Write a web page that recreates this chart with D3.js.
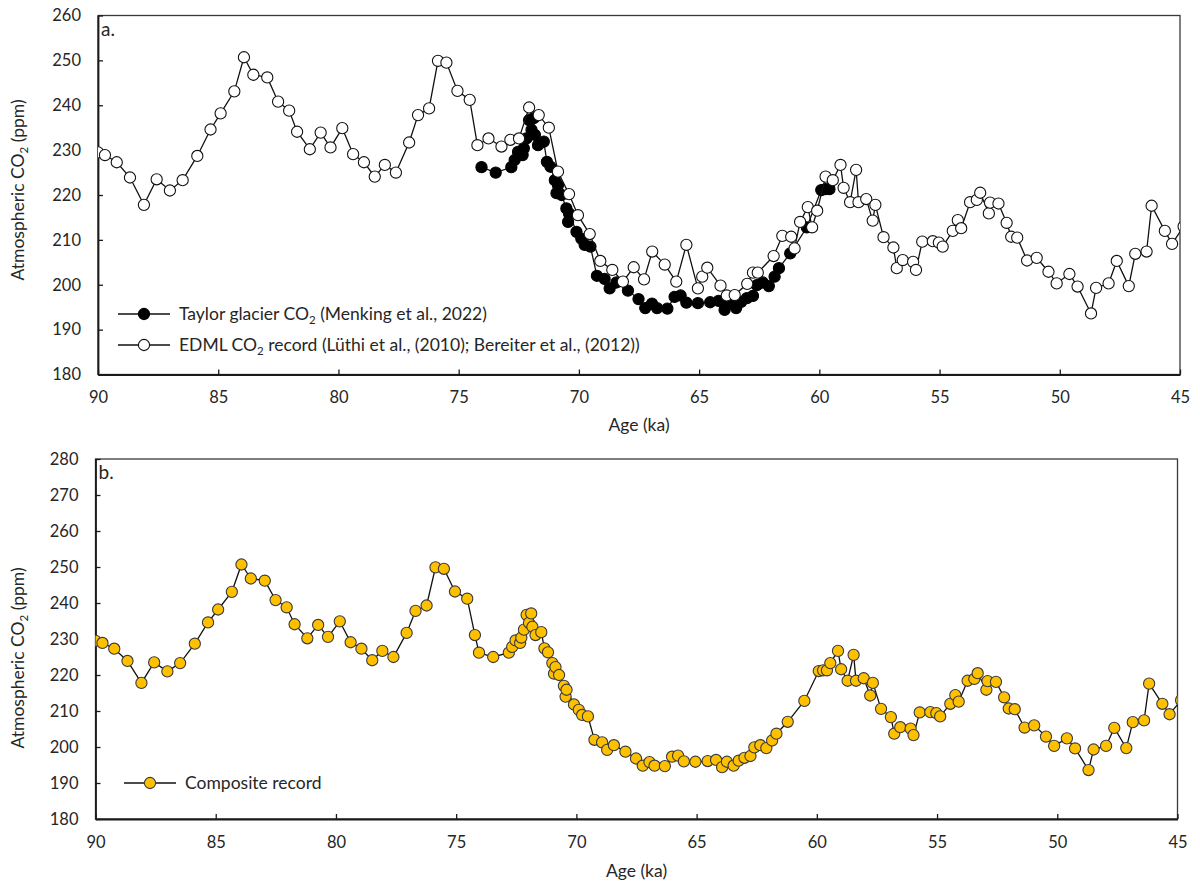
<!DOCTYPE html>
<html><head><meta charset="utf-8">
<script src="https://cdn.jsdelivr.net/npm/d3@7"></script>
<style>
body{margin:0;background:#fff}
text{font-family:Lato,"Open Sans",sans-serif;fill:#262626}
</style>
</head><body>
<svg id="c" width="1200" height="886"></svg>
<script>
// ---- data ----
const edmlAge = [90.0,89.71,89.22,88.67,88.09,87.56,87.01,86.48,85.87,85.32,84.90,84.33,83.93,83.54,82.96,82.51,82.05,81.72,81.19,80.74,80.33,79.84,79.39,78.94,78.49,78.07,77.61,77.06,76.69,76.23,75.86,75.51,75.05,74.54,74.22,73.76,73.22,72.85,72.49,72.07,71.67,71.25,70.87,70.41,70.04,69.55,69.11,68.61,68.17,67.72,67.29,66.95,66.43,65.95,65.53,65.05,64.87,64.66,64.11,63.85,63.52,63.00,62.76,62.56,61.90,61.54,61.17,61.03,60.80,60.48,60.30,60.09,59.74,59.44,59.12,58.99,58.72,58.47,58.37,58.05,57.78,57.67,57.33,56.92,56.78,56.53,56.10,55.98,55.72,55.28,55.03,54.87,54.45,54.24,54.10,53.73,53.45,53.31,52.95,52.90,52.55,52.21,52.02,51.77,51.36,50.96,50.47,50.13,49.60,49.26,48.70,48.49,47.97,47.63,47.13,46.86,46.39,46.18,45.63,45.33,44.85];
const edmlCO2 = [229.5,228.9,227.3,223.9,217.8,223.5,221.0,223.3,228.7,234.6,238.2,243.1,250.7,246.8,246.2,240.8,238.8,234.1,230.2,233.9,230.6,234.9,229.1,227.3,224.1,226.7,225.0,231.7,237.8,239.3,249.9,249.5,243.2,241.2,231.1,232.6,230.8,232.3,232.6,239.5,237.8,235.0,225.2,220.2,215.5,211.3,205.3,203.3,200.7,203.9,201.2,207.4,204.5,200.7,208.9,199.2,201.8,203.8,199.8,197.6,197.7,200.2,202.7,202.7,206.4,210.9,210.7,208.1,214.0,217.3,212.8,216.5,224.1,223.3,226.7,221.6,218.4,225.6,218.4,219.1,214.3,217.8,210.6,208.3,203.7,205.5,205.1,203.3,209.6,209.7,209.4,208.5,212.0,214.4,212.6,218.4,218.9,220.5,215.9,218.3,218.1,213.8,210.7,210.5,205.4,206.0,202.9,200.3,202.4,199.6,193.6,199.3,200.3,205.3,199.7,206.9,207.4,217.6,212.0,209.1,213.0];

const taylorAge = [74.05,73.46,72.81,72.67,72.53,72.34,72.29,72.18,72.07,71.97,71.88,71.83,71.70,71.46,71.33,71.18,71.00,70.93,70.87,70.72,70.52,70.45,70.41,70.10,69.90,69.76,69.52,69.25,68.93,68.72,68.44,67.96,67.52,67.24,66.96,66.75,66.32,66.02,65.77,65.53,65.05,64.54,64.19,63.94,63.74,63.46,63.25,63.01,62.76,62.60,62.35,62.10,61.86,61.68,61.21,60.52,59.92,59.74,59.58];
const taylorCO2 = [226.2,225.0,226.2,227.8,229.6,228.9,230.4,232.6,236.7,234.5,237.1,233.4,231.1,231.9,227.4,226.3,223.3,220.4,222.2,220.0,217.0,214.0,215.9,211.8,210.3,208.9,208.5,202.0,201.3,199.2,200.5,198.7,196.8,194.8,195.8,194.8,194.7,197.3,197.6,196.0,195.9,196.1,196.4,194.4,195.9,194.8,196.2,197.0,197.5,199.9,200.5,199.7,201.8,203.7,207.0,212.8,221.1,221.3,221.3];

const xTicks = [90,85,80,75,70,65,60,55,50,45];
const yTicksA = [180,190,200,210,220,230,240,250,260];
const yTicksB = [180,190,200,210,220,230,240,250,260,270,280];

// composite record: EDML outside the Taylor glacier interval, Taylor glacier inside it
const edmlPts = edmlAge.map((a,i)=>({age:a,co2:edmlCO2[i]}));
const taylorPts = taylorAge.map((a,i)=>({age:a,co2:taylorCO2[i]}));
const compositePts = edmlPts.filter(d=>d.age>=74.2)
  .concat(taylorPts)
  .concat(edmlPts.filter(d=>d.age<=59.45));

const svg = d3.select("#c");
const R = 5.6;

function co2Label(sel, x, y, parts){
  const t = sel.append("text").attr("font-size",17.5)
    .attr("transform",`translate(${x},${y}) rotate(-90)`)
    .attr("text-anchor","middle");
  t.append("tspan").text(parts[0]);
  t.append("tspan").attr("font-size",11.5).attr("dy",4).text("2");
  t.append("tspan").attr("dy",-4).text(parts[1]);
  return t;
}

function panel(cfg){
  const g = svg.append("g");
  const x = d3.scaleLinear().domain([90,45]).range([cfg.x0,cfg.x1]);
  const y = d3.scaleLinear().domain(cfg.yDomain).range([cfg.y1,cfg.y0]);
  const id = "clip"+cfg.name;
  svg.append("clipPath").attr("id",id).append("rect")
    .attr("x",cfg.x0).attr("y",cfg.y0).attr("width",cfg.x1-cfg.x0).attr("height",cfg.y1-cfg.y0);

  // frame
  g.append("rect").attr("x",cfg.x0).attr("y",cfg.y0).attr("width",cfg.x1-cfg.x0).attr("height",cfg.y1-cfg.y0)
    .attr("fill","none").attr("stroke","#3a3a3a").attr("stroke-width",1.3);

  const xa = g.append("g").attr("transform",`translate(0,${cfg.y1})`)
    .call(d3.axisBottom(x).tickValues(xTicks).tickSizeInner(-5).tickSizeOuter(0).tickPadding(17).tickFormat(d3.format("d")));
  const ya = g.append("g").attr("transform",`translate(${cfg.x0},0)`)
    .call(d3.axisLeft(y).tickValues(cfg.yTicks).tickSizeInner(-5).tickSizeOuter(0).tickPadding(17).tickFormat(d3.format("d")));
  [xa,ya].forEach(a=>{
    a.select(".domain").attr("stroke","#1a1a1a").attr("stroke-width",1.8);
    a.selectAll(".tick line").attr("stroke","#1a1a1a").attr("stroke-width",1.3);
    a.selectAll(".tick text").attr("font-size",16.5).attr("font-family","Lato,'Open Sans',sans-serif").attr("fill","#262626");
  });

  const plot = g.append("g").attr("clip-path",`url(#${id})`);
  const line = d3.line().x(d=>x(d.age)).y(d=>y(d.co2));
  cfg.series.forEach(s=>{
    plot.append("path").datum(s.data).attr("d",line)
      .attr("fill","none").attr("stroke","#111").attr("stroke-width",1.3);
    plot.selectAll(null).data(s.data).enter().append("circle")
      .attr("cx",d=>x(d.age)).attr("cy",d=>y(d.co2)).attr("r",R)
      .attr("fill",s.fill).attr("stroke",s.stroke).attr("stroke-width",1.1);
  });

  // legend
  cfg.legend.forEach(l=>{
    const lg = g.append("g");
    lg.append("line").attr("x1",l.x).attr("x2",l.x+52).attr("y1",l.y).attr("y2",l.y)
      .attr("stroke","#111").attr("stroke-width",1.3);
    lg.append("circle").attr("cx",l.x+26).attr("cy",l.y).attr("r",R)
      .attr("fill",l.fill).attr("stroke",l.stroke).attr("stroke-width",1.1);
    const t = lg.append("text").attr("x",l.x+61).attr("y",l.y+6).attr("font-size",17.5);
    l.text.forEach(p=>{
      if(p.sub) t.append("tspan").attr("font-size",11.5).attr("dy",4).text(p.t);
      else if(p.after) t.append("tspan").attr("dy",-4).text(p.t);
      else t.append("tspan").text(p.t);
    });
  });

  g.append("text").attr("x",cfg.x0+3).attr("y",cfg.y0+20).attr("font-size",19).text(cfg.name+".");
  g.append("text").attr("x",(cfg.x0+cfg.x1)/2).attr("y",cfg.xlabelY).attr("text-anchor","middle")
    .attr("font-size",17.5).text("Age (ka)");
  co2Label(g, 24, cfg.ylabelY, ["Atmospheric CO"," (ppm)"]);
}

panel({name:"a", x0:98, x1:1180, y0:15.5, y1:374.5, yDomain:[180,260], yTicks:yTicksA,
  xlabelY:431, ylabelY:190,
  series:[{data:taylorPts, fill:"#000", stroke:"#000"},{data:edmlPts, fill:"#fff", stroke:"#111"}],
  legend:[
    {x:118,y:314,fill:"#000",stroke:"#000",text:[{t:"Taylor glacier CO"},{t:"2",sub:1},{t:" (Menking et al., 2022)",after:1}]},
    {x:118,y:345,fill:"#fff",stroke:"#111",text:[{t:"EDML CO"},{t:"2",sub:1},{t:" record (Lüthi et al., (2010); Bereiter et al., (2012))",after:1}]}
  ]});

panel({name:"b", x0:95.5, x1:1177.5, y0:459, y1:819, yDomain:[180,280], yTicks:yTicksB,
  xlabelY:877, ylabelY:658,
  series:[{data:compositePts, fill:"#FFC000", stroke:"#3a3a3a"}],
  legend:[
    {x:124,y:783,fill:"#FFC000",stroke:"#3a3a3a",text:[{t:"Composite record"}]}
  ]});
</script>
</body></html>
